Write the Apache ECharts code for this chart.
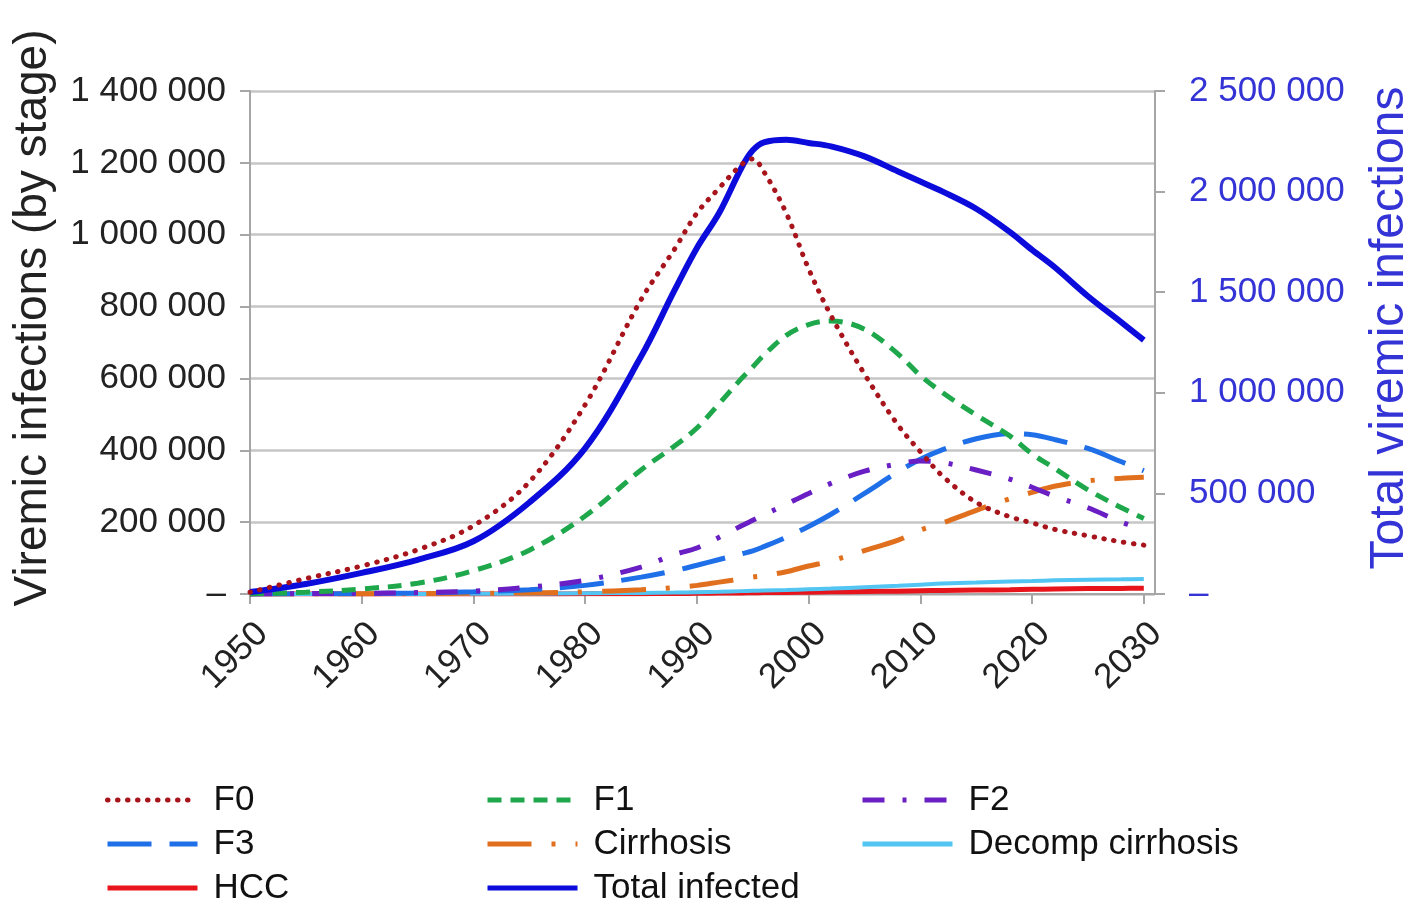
<!DOCTYPE html>
<html>
<head>
<meta charset="utf-8">
<script src="https://cdn.jsdelivr.net/npm/echarts@6/dist/echarts.min.js"></script>
<style>
  html, body { margin: 0; padding: 0; background: #ffffff; }
  #chart { width: 1412px; height: 902px; }
</style>
</head>
<body>
<div id="chart"></div>
<script>
// ---- Data ----
const years = [1950, 1955, 1960, 1965, 1970, 1975, 1980, 1985, 1988, 1990, 1992, 1994, 1995, 1996,
               1998, 2000, 2002, 2005, 2008, 2010, 2012, 2015, 2018, 2020, 2022, 2025, 2028, 2030];

const f0 =        [5000, 43000, 78000, 123000, 190000, 312000, 527000, 819000, 960000, 1060000, 1130000, 1195000, 1211000, 1175000,
                   1060000, 905000, 775000, 612000, 470000, 396000, 328000, 255000, 215000, 198000, 180000, 162000, 145000, 136000];
const f1 =        [0, 5000, 14000, 30000, 65000, 122000, 217000, 345000, 412000, 462000, 530000, 600000, 632000, 665000,
                   720000, 750000, 760000, 737000, 668000, 608000, 560000, 498000, 440000, 390000, 350000, 290000, 240000, 210000];
const f2 =        [0, 1000, 2000, 4000, 8000, 19000, 38000, 75000, 110000, 128000, 158000, 190000, 205000, 220000,
                   250000, 280000, 308000, 342000, 362000, 370000, 366000, 345000, 320000, 297000, 272000, 240000, 200000, 180000];
const f3 =        [0, 500, 1000, 3000, 6000, 12000, 24000, 47000, 65000, 80000, 96000, 112000, 120000, 132000,
                   158000, 188000, 222000, 280000, 340000, 375000, 402000, 432000, 446000, 443000, 430000, 405000, 368000, 343000];
const cirrhosis = [0, 0, 500, 1000, 2000, 3000, 6000, 12000, 18000, 24000, 33000, 42000, 47000, 51000,
                   62000, 78000, 92000, 121000, 150000, 178000, 198000, 233000, 265000, 283000, 300000, 315000, 322000, 325000];
const decomp =    [0, 0, 0, 0, 500, 1000, 2000, 3000, 4000, 5000, 6000, 8000, 9000, 10000,
                   11000, 13000, 15000, 19000, 23000, 26000, 29000, 32000, 35000, 36000, 38000, 40000, 41000, 42000];
const hcc =       [0, 0, 0, 0, 0, 200, 500, 1000, 1500, 2000, 2500, 3000, 3500, 4000,
                   4500, 5000, 6000, 7000, 8000, 9000, 10000, 11000, 12000, 13000, 14000, 15000, 15500, 16000];
const totalInfected = [10000, 50000, 105000, 170000, 262000, 455000, 725000, 1180000, 1510000, 1720000, 1895000, 2120000, 2205000, 2245000,
                   2258000, 2242000, 2225000, 2175000, 2100000, 2050000, 2000000, 1915000, 1800000, 1710000, 1625000, 1480000, 1350000, 1262000];

const leftAxisName = 'Viremic infections (by stage)';
const rightAxisName = 'Total viremic infections';

// ---- helpers ----
function pairs(vals) { return years.map((y, i) => [y, vals[i]]); }
function fmt(v) {
  if (v === 0) return '\u2013';
  return String(Math.round(v)).replace(/\B(?=(\d{3})+(?!\d))/g, ' ');
}
const FONT = '"Liberation Sans", Arial, sans-serif';

function lineSeries(name, vals, color, width, type, yAxisIndex, cap) {
  return {
    name: name,
    type: 'line',
    yAxisIndex: yAxisIndex || 0,
    data: pairs(vals),
    showSymbol: false,
    symbol: 'none',
    smooth: 0.35,
    lineStyle: { color: color, width: width, type: type, cap: cap || 'butt' },
    itemStyle: { color: color },
    emphasis: { disabled: true },
    animation: false
  };
}

const chart = echarts.init(document.getElementById('chart'), null, { renderer: 'canvas' });

const legendCommon = {
  orient: 'vertical',
  top: 777,
  height: 125,
  itemWidth: 90,
  itemHeight: 14,
  itemGap: 8,
  itemStyle: { opacity: 0 },
  lineStyle: { width: 5 },
  textStyle: { fontFamily: FONT, fontSize: 35, color: '#111', lineHeight: 36, padding: [0, 0, 0, 11] },
  selectedMode: false
};

chart.setOption({
  backgroundColor: '#ffffff',
  animation: false,
  textStyle: { fontFamily: FONT },
  grid: { left: 250, right: 257, top: 91, bottom: 308, containLabel: false },
  legend: [
    Object.assign({}, legendCommon, { left: 100, data: ['F0', 'F3', 'HCC'] }),
    Object.assign({}, legendCommon, { left: 480, data: ['F1', 'Cirrhosis', 'Total infected'] }),
    Object.assign({}, legendCommon, { left: 855, data: ['F2', 'Decomp cirrhosis'] })
  ],
  xAxis: {
    type: 'value',
    min: 1950,
    max: 2031,
    interval: 10,
    axisLine: { show: true, onZero: false, lineStyle: { color: '#A6A6A6', width: 2 } },
    axisTick: { show: true, length: 10, lineStyle: { color: '#A6A6A6', width: 2 } },
    axisLabel: {
      rotate: 45,
      margin: 22,
      verticalAlign: 'top',
      fontSize: 35,
      color: '#222',
      fontFamily: FONT,
      showMaxLabel: false,
      formatter: function (v) { return (v % 10 === 0) ? String(v) : ''; }
    },
    splitLine: { show: false }
  },
  yAxis: [
    {
      type: 'value',
      min: 0,
      max: 1400000,
      interval: 200000,
      position: 'left',
      axisLine: { show: true, lineStyle: { color: '#A6A6A6', width: 2 } },
      axisTick: { show: true, length: 10, lineStyle: { color: '#A6A6A6', width: 2 } },
      axisLabel: { margin: 24, fontSize: 35, color: '#222', fontFamily: FONT, formatter: fmt },
      splitLine: { show: true, lineStyle: { color: '#C6C6C6', width: 2.5 } }
    },
    {
      type: 'value',
      min: 0,
      max: 2500000,
      interval: 500000,
      position: 'right',
      axisLine: { show: true, lineStyle: { color: '#A6A6A6', width: 2 } },
      axisTick: { show: true, length: 10, lineStyle: { color: '#A6A6A6', width: 2 } },
      axisLabel: { margin: 34, fontSize: 35, color: '#3434D6', fontFamily: FONT, formatter: fmt },
      splitLine: { show: false }
    }
  ],
  graphic: [
    {
      type: 'text', x: 33, y: 318, rotation: Math.PI / 2,
      style: { text: leftAxisName, font: '46px ' + FONT, fill: '#222', textAlign: 'center', textVerticalAlign: 'middle' }
    },
    {
      type: 'text', x: 1390, y: 328, rotation: Math.PI / 2,
      style: { text: rightAxisName, font: '48px ' + FONT, fill: '#3434D6', textAlign: 'center', textVerticalAlign: 'middle' }
    }
  ],
  series: [
    lineSeries('HCC', hcc, '#E8141C', 5, 'solid', 0),
    lineSeries('Decomp cirrhosis', decomp, '#52C5F2', 4, 'solid', 0),
    lineSeries('Cirrhosis', cirrhosis, '#E0701E', 5, [44, 20, 4, 20], 0),
    lineSeries('F3', f3, '#1F6FE8', 5, [44, 18], 0),
    lineSeries('F2', f2, '#6A1FC4', 5, [22, 18, 4, 18], 0),
    lineSeries('F1', f1, '#1EA84B', 5, [14, 9], 0),
    lineSeries('Total infected', totalInfected, '#0B0BDB', 6, 'solid', 1),
    lineSeries('F0', f0, '#A8141C', 5, [0.5, 9.5], 0, 'round')
  ]
});
</script>
</body>
</html>
